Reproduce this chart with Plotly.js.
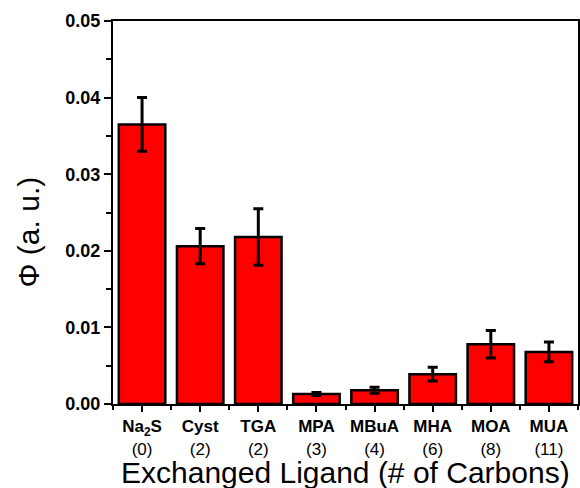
<!DOCTYPE html>
<html>
<head>
<meta charset="utf-8">
<script src="https://cdn.plot.ly/plotly-3.0.1.min.js"></script>
<style>html,body{margin:0;padding:0;background:#fff;}#chart{width:580px;height:488px;}</style>
</head>
<body>
<div id="chart"></div>
<script>
var ligands = ['Na<sub>2</sub>S', 'Cyst', 'TGA', 'MPA', 'MBuA', 'MHA', 'MOA', 'MUA'];
var carbons = ['0', '2', '2', '3', '4', '6', '8', '11'];
var phi = [0.0365, 0.0206, 0.0218, 0.0013, 0.0018, 0.0039, 0.0078, 0.0068];
var phiErr = [0.0035, 0.0023, 0.0037, 0.0002, 0.0004, 0.0009, 0.0018, 0.0013];
var yTicks = [0, 0.01, 0.02, 0.03, 0.04, 0.05];

var xPos = ligands.map(function(_, i){ return i; });
var tickText = ligands.map(function(l, i){ return '<b>' + l + '</b><br>(' + carbons[i] + ')'; });

var FF = 'Liberation Sans, Arial, sans-serif';

var trace = {
  type: 'bar',
  x: xPos,
  y: phi,
  width: 0.8,
  marker: {color: '#FF0000', line: {color: '#000', width: 2.5}},
  error_y: {type: 'data', array: phiErr, visible: true, color: '#000', thickness: 3, width: 5}
};

var layout = {
  width: 580, height: 488,
  margin: {l: 113, r: 2, t: 21, b: 84},
  paper_bgcolor: '#fff', plot_bgcolor: '#fff',
  showlegend: false,
  font: {family: FF, color: '#000'},
  xaxis: {
    range: [-0.5, 7.5],
    tickmode: 'array', tickvals: xPos, ticktext: tickText,
    ticks: 'outside', ticklen: 6, tickwidth: 2, tickcolor: '#000',
    minor: {tickmode: 'linear', tick0: 0.5, dtick: 1, ticks: 'outside', ticklen: 4, tickwidth: 2, tickcolor: '#000'},
    showline: true, linecolor: '#000', linewidth: 2, mirror: true,
    showgrid: false, zeroline: false,
    tickfont: {size: 17, family: FF, color: '#000'}
  },
  yaxis: {
    range: [0, 0.05],
    tickmode: 'array', tickvals: yTicks,
    tickformat: '.2f',
    ticks: 'outside', ticklen: 7, tickwidth: 2, tickcolor: '#000',
    minor: {tickmode: 'linear', tick0: 0.005, dtick: 0.01, ticks: 'outside', ticklen: 5, tickwidth: 2, tickcolor: '#000'},
    showline: true, linecolor: '#000', linewidth: 2, mirror: true,
    showgrid: false, zeroline: false,
    tickfont: {size: 18, family: FF, color: '#000', weight: 'bold'}
  },
  annotations: [{
    text: 'Φ (a. u.)', textangle: -90,
    xref: 'paper', yref: 'paper', x: -0.182, y: 0.449,
    xanchor: 'center', yanchor: 'middle', showarrow: false,
    font: {size: 30, family: FF, color: '#000'}
  }, {
    text: 'Exchanged Ligand (# of Carbons)',
    xref: 'paper', yref: 'paper', x: 0.5, y: -0.18,
    xanchor: 'center', yanchor: 'middle', showarrow: false,
    font: {size: 30, family: FF, color: '#000'}
  }]
};

Plotly.newPlot('chart', [trace], layout, {displayModeBar: false, staticPlot: true});
</script>
</body>
</html>
